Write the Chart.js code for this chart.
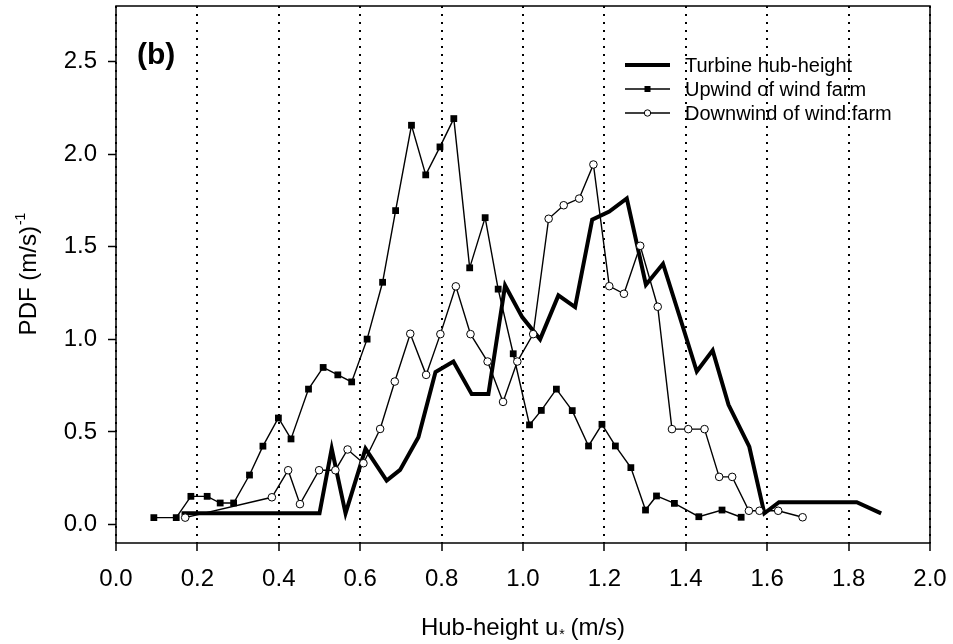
<!DOCTYPE html>
<html>
<head>
<meta charset="utf-8">
<script src="https://cdn.jsdelivr.net/npm/chart.js@4.4.1/dist/chart.umd.min.js"></script>
<style>
  body { margin: 0; background: #fff; }
</style>
</head>
<body>
<canvas id="myChart" width="953" height="644"></canvas>
<script>
// Axis ticks
const xTicks = [0.0, 0.2, 0.4, 0.6, 0.8, 1.0, 1.2, 1.4, 1.6, 1.8, 2.0];
const yTicks = [0.0, 0.5, 1.0, 1.5, 2.0, 2.5];

const seriesNames = ["Turbine hub-height", "Upwind of wind farm", "Downwind of wind farm"];

// Turbine hub-height (thick line)
const turbineX = [0.161, 0.50, 0.53, 0.564, 0.613, 0.665, 0.698, 0.743, 0.785, 0.829, 0.874, 0.915, 0.956, 0.998, 1.042,
  1.087, 1.128, 1.170, 1.212, 1.255, 1.302, 1.344, 1.386, 1.427, 1.466, 1.505, 1.556, 1.593, 1.629, 1.82, 1.88];
const turbineY = [0.06, 0.06, 0.41, 0.06, 0.41, 0.237, 0.295, 0.471, 0.823, 0.88, 0.704, 0.704, 1.291, 1.12, 1.0,
  1.237, 1.174, 1.646, 1.69, 1.761, 1.295, 1.408, 1.115, 0.826, 0.94, 0.646, 0.42, 0.06, 0.12, 0.12, 0.06];

// Upwind of wind farm (filled squares)
const upwindX = [0.093, 0.148, 0.184, 0.224, 0.256, 0.289, 0.328, 0.361, 0.399, 0.43,
  0.473, 0.509, 0.545, 0.579, 0.617, 0.655, 0.687, 0.726, 0.761, 0.796,
  0.830, 0.869, 0.907, 0.939, 0.976, 1.016, 1.045, 1.082, 1.121, 1.161,
  1.194, 1.227, 1.265, 1.301, 1.328, 1.372, 1.432, 1.489, 1.536];
const upwindY = [0.037, 0.037, 0.152, 0.152, 0.116, 0.116, 0.267, 0.423, 0.575, 0.462,
  0.731, 0.848, 0.808, 0.770, 1.001, 1.308, 1.695, 2.156, 1.888, 2.039,
  2.192, 1.386, 1.657, 1.271, 0.922, 0.538, 0.616, 0.731, 0.615, 0.424,
  0.541, 0.424, 0.307, 0.078, 0.154, 0.114, 0.042, 0.078, 0.039];

// Downwind of wind farm (open circles)
const downwindX = [0.170, 0.383, 0.423, 0.452, 0.499, 0.539, 0.569, 0.608, 0.649, 0.685,
  0.723, 0.762, 0.797, 0.835, 0.871, 0.913, 0.951, 0.986, 1.025, 1.063,
  1.100, 1.138, 1.173, 1.212, 1.248, 1.288, 1.331, 1.366, 1.406, 1.446,
  1.482, 1.514, 1.555, 1.581, 1.627, 1.687];
const downwindY = [0.037, 0.147, 0.293, 0.110, 0.293, 0.293, 0.405, 0.331, 0.516, 0.772,
  1.030, 0.808, 1.028, 1.286, 1.028, 0.880, 0.662, 0.880, 1.028, 1.651,
  1.724, 1.760, 1.944, 1.287, 1.246, 1.505, 1.176, 0.515, 0.515, 0.515,
  0.257, 0.257, 0.074, 0.074, 0.074, 0.039];

const FONT = '"Liberation Sans", Arial, sans-serif';

function toPoints(xs, ys) {
    return xs.map((x, i) => ({ x: x, y: ys[i] }));
}

// frame, panel letter, legend and axis titles
const decorPlugin = {
    id: 'decor',
    afterDraw(chart) {
        const ctx = chart.ctx;
        const a = chart.chartArea;
        ctx.save();
        ctx.strokeStyle = '#000';
        ctx.fillStyle = '#000';
        ctx.lineWidth = 1.5;
        ctx.strokeRect(a.left, a.top, a.right - a.left, a.bottom - a.top);

        // (b)
        ctx.font = 'bold 30px ' + FONT;
        ctx.textBaseline = 'middle';
        ctx.textAlign = 'left';
        ctx.fillText('(b)', 137, 56);

        // legend
        const rows = [65, 89, 113];
        const x1 = 625, x2 = 670, xm = (x1 + x2) / 2;
        rows.forEach((y, i) => {
            ctx.beginPath();
            ctx.lineWidth = i == 0 ? 4 : 1.3;
            ctx.moveTo(x1, y);
            ctx.lineTo(x2, y);
            ctx.stroke();
            if (i == 1) {
                ctx.fillRect(xm - 3, y - 3, 6, 6);
            } else if (i == 2) {
                ctx.beginPath();
                ctx.arc(xm, y, 3.2, 0, Math.PI * 2);
                ctx.fillStyle = '#fff';
                ctx.fill();
                ctx.lineWidth = 1;
                ctx.stroke();
                ctx.fillStyle = '#000';
            }
            ctx.font = '20px ' + FONT;
            ctx.fillText(seriesNames[i], 685, y + 1);
        });

        // x title: Hub-height u* (m/s)
        const big = '24px ' + FONT, small = '14px ' + FONT;
        ctx.font = big;
        const p1 = 'Hub-height u', p3 = ' (m/s)';
        const w1 = ctx.measureText(p1).width;
        const w3 = ctx.measureText(p3).width;
        ctx.font = small;
        const w2 = ctx.measureText('*').width;
        let xs = (a.left + a.right) / 2 - (w1 + w2 + w3) / 2;
        const ty = 635;
        ctx.textBaseline = 'alphabetic';
        ctx.font = big;
        ctx.fillText(p1, xs, ty);
        ctx.font = small;
        ctx.fillText('*', xs + w1 + 1, ty + 4);
        ctx.font = big;
        ctx.fillText(p3, xs + w1 + w2, ty);

        // y title: PDF (m/s)^-1
        ctx.translate(36, (a.top + a.bottom) / 2);
        ctx.rotate(-Math.PI / 2);
        ctx.font = big;
        const q1 = 'PDF (m/s)';
        const v1 = ctx.measureText(q1).width;
        ctx.font = small;
        const v2 = ctx.measureText('-1').width;
        const s = -(v1 + v2) / 2;
        ctx.font = big;
        ctx.fillText(q1, s, 0);
        ctx.font = small;
        ctx.fillText('-1', s + v1 + 1, -11);
        ctx.restore();
    }
};

new Chart("myChart", {
    type: "scatter",
    data: {
        datasets: [{
            label: seriesNames[0],
            data: toPoints(turbineX, turbineY),
            showLine: true,
            borderColor: "#000",
            borderWidth: 4,
            pointRadius: 0,
            order: 3
        }, {
            label: seriesNames[1],
            data: toPoints(upwindX, upwindY),
            showLine: true,
            borderColor: "#000",
            borderWidth: 1.4,
            pointStyle: "rect",
            pointRadius: 4.8,
            pointBackgroundColor: "#000",
            pointBorderWidth: 0,
            order: 2
        }, {
            label: seriesNames[2],
            data: toPoints(downwindX, downwindY),
            showLine: true,
            borderColor: "#000",
            borderWidth: 1.4,
            pointStyle: "circle",
            pointRadius: 3.8,
            pointBackgroundColor: "#fff",
            pointBorderColor: "#000",
            pointBorderWidth: 1,
            order: 1
        }]
    },
    options: {
        responsive: false,
        animation: false,
        layout: { padding: { top: 6, right: 23, left: 0, bottom: 0 } },
        plugins: {
            legend: { display: false },
            tooltip: { enabled: false }
        },
        scales: {
            x: {
                type: "linear",
                min: 0,
                max: 2,
                afterBuildTicks: (scale) => { scale.ticks = xTicks.map(v => ({ value: v })); },
                afterFit: (scale) => {
                    scale.height = 101;
                    scale.paddingLeft = 0;
                    scale.paddingRight = 0;
                },
                ticks: {
                    color: "#000",
                    padding: 14,
                    font: { family: FONT, size: 24 },
                    callback: (v) => v.toFixed(1)
                },
                grid: {
                    color: "#000",
                    lineWidth: 2,
                    tickLength: 8,
                    tickWidth: 1.5,
                    tickColor: "#000"
                },
                border: { display: false, dash: [2, 6] }
            },
            y: {
                type: "linear",
                min: -0.1,
                max: 2.8,
                afterBuildTicks: (scale) => { scale.ticks = yTicks.map(v => ({ value: v })); },
                afterFit: (scale) => {
                    scale.width = 116;
                    scale.paddingTop = 0;
                    scale.paddingBottom = 0;
                },
                ticks: {
                    color: "#000",
                    padding: 11,
                    font: { family: FONT, size: 24 },
                    callback: (v) => v.toFixed(1)
                },
                grid: {
                    drawOnChartArea: false,
                    tickLength: 8,
                    tickWidth: 1.5,
                    tickColor: "#000"
                },
                border: { display: false }
            }
        }
    },
    plugins: [decorPlugin]
});
</script>
</body>
</html>
